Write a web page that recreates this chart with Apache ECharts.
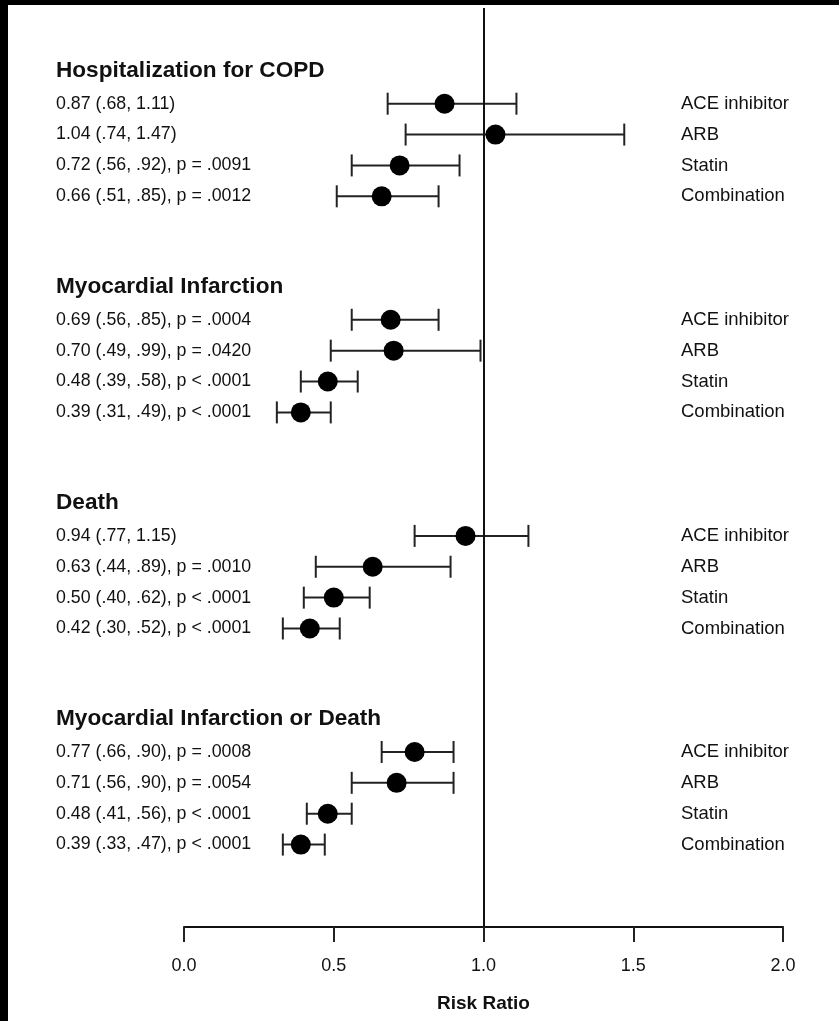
<!DOCTYPE html>
<html>
<head>
<meta charset="utf-8">
<script src="https://cdn.jsdelivr.net/npm/echarts@6/dist/echarts.min.js"></script>
<style>
  html, body { margin: 0; padding: 0; background: #000; }
  #chart { position: absolute; left: 8px; top: 5px; width: 831px; height: 1016px; background: #fff; }
</style>
</head>
<body>
<div id="chart"></div>
<script>
// ---- data ----
var groups = ['Hospitalization for COPD', 'Myocardial Infarction', 'Death', 'Myocardial Infarction or Death'];
var treatments = ['ACE inhibitor', 'ARB', 'Statin', 'Combination'];
var rrValues = [
  [0.87, 1.04, 0.72, 0.66],
  [0.69, 0.70, 0.48, 0.39],
  [0.94, 0.63, 0.50, 0.42],
  [0.77, 0.71, 0.48, 0.39]
];
var ciLow = [
  [0.68, 0.74, 0.56, 0.51],
  [0.56, 0.49, 0.39, 0.31],
  [0.77, 0.44, 0.40, 0.33],
  [0.66, 0.56, 0.41, 0.33]
];
var ciHigh = [
  [1.11, 1.47, 0.92, 0.85],
  [0.85, 0.99, 0.58, 0.49],
  [1.15, 0.89, 0.62, 0.52],
  [0.90, 0.90, 0.56, 0.47]
];
var rowLabels = [
  ['0.87 (.68, 1.11)', '1.04 (.74, 1.47)', '0.72 (.56, .92), p = .0091', '0.66 (.51, .85), p = .0012'],
  ['0.69 (.56, .85), p = .0004', '0.70 (.49, .99), p = .0420', '0.48 (.39, .58), p < .0001', '0.39 (.31, .49), p < .0001'],
  ['0.94 (.77, 1.15)', '0.63 (.44, .89), p = .0010', '0.50 (.40, .62), p < .0001', '0.42 (.30, .52), p < .0001'],
  ['0.77 (.66, .90), p = .0008', '0.71 (.56, .90), p = .0054', '0.48 (.41, .56), p < .0001', '0.39 (.33, .47), p < .0001']
];
var xMin = 0, xMax = 2, xInterval = 0.5;

// ---- build rows: each group = header + 4 rows + 2 blank slots ----
var SLOTS_PER_GROUP = 7;
var pointData = [], barData = [], textData = [], headerData = [];
groups.forEach(function (g, gi) {
  var base = gi * SLOTS_PER_GROUP;
  headerData.push([0, base, g]);
  treatments.forEach(function (t, ti) {
    var y = base + 1 + ti;
    pointData.push([rrValues[gi][ti], y]);
    barData.push([ciLow[gi][ti], ciHigh[gi][ti], y]);
    textData.push([0, y, rowLabels[gi][ti], t]);
  });
});

var FONT = "'Liberation Sans', Arial, Helvetica, sans-serif";
var LEFT_TEXT_X = 48;
var RIGHT_TEXT_X = 673;

var chart = echarts.init(document.getElementById('chart'), null, { renderer: 'canvas' });
chart.setOption({
  animation: false,
  backgroundColor: '#fff',
  grid: { left: 176, right: 56, top: 3, bottom: 94, containLabel: false },
  xAxis: {
    type: 'value', min: xMin, max: xMax, interval: xInterval, position: 'bottom',
    axisLine: { show: true, onZero: false, lineStyle: { color: '#111', width: 2 } },
    axisTick: { show: true, length: 15, lineStyle: { color: '#222', width: 2 } },
    splitLine: { show: false },
    axisLabel: {
      margin: 30, color: '#111', fontSize: 18, fontFamily: FONT,
      formatter: function (v) { return v.toFixed(1); }
    },
    name: 'Risk Ratio', nameLocation: 'middle', nameGap: 67,
    nameTextStyle: { color: '#111', fontSize: 19, fontWeight: 'bold', fontFamily: FONT }
  },
  yAxis: {
    type: 'value', inverse: true, min: -2.1, max: 27.67,
    show: false, splitLine: { show: false }
  },
  series: [
    {
      type: 'custom',
      name: 'ci',
      data: barData,
      encode: { x: [0, 1], y: 2 },
      renderItem: function (params, api) {
        var y = api.value(2);
        var p1 = api.coord([api.value(0), y]);
        var p2 = api.coord([api.value(1), y]);
        var h = 11;
        var st = { stroke: '#222', lineWidth: 2 };
        return {
          type: 'group',
          children: [
            { type: 'line', shape: { x1: p1[0], y1: p1[1], x2: p2[0], y2: p2[1] }, style: st },
            { type: 'line', shape: { x1: p1[0], y1: p1[1] - h, x2: p1[0], y2: p1[1] + h }, style: st },
            { type: 'line', shape: { x1: p2[0], y1: p2[1] - h, x2: p2[0], y2: p2[1] + h }, style: st }
          ]
        };
      },
      z: 2
    },
    {
      type: 'scatter',
      name: 'rr',
      data: pointData,
      symbol: 'circle',
      symbolSize: 20,
      itemStyle: { color: '#000', opacity: 1 },
      z: 3,
      markLine: {
        silent: true, symbol: 'none', label: { show: false },
        lineStyle: { color: '#111', width: 2, type: 'solid', opacity: 1 },
        data: [{ xAxis: 1 }]
      }
    },
    {
      type: 'custom',
      name: 'rowText',
      data: textData,
      encode: { x: 0, y: 1 },
      renderItem: function (params, api) {
        var p = api.coord([0, api.value(1)]);
        return {
          type: 'group',
          children: [
            { type: 'text', x: LEFT_TEXT_X, y: p[1], style: { text: textData[params.dataIndex][2], fill: '#111', font: '17.8px ' + FONT, textAlign: 'left', textVerticalAlign: 'middle' } },
            { type: 'text', x: RIGHT_TEXT_X, y: p[1], style: { text: textData[params.dataIndex][3], fill: '#111', font: '18.5px ' + FONT, textAlign: 'left', textVerticalAlign: 'middle' } }
          ]
        };
      }
    },
    {
      type: 'custom',
      name: 'headers',
      data: headerData,
      encode: { x: 0, y: 1 },
      renderItem: function (params, api) {
        var p = api.coord([0, api.value(1)]);
        return {
          type: 'text', x: LEFT_TEXT_X, y: p[1] - 2,
          style: { text: headerData[params.dataIndex][2], fill: '#111', font: 'bold 22.6px ' + FONT, textAlign: 'left', textVerticalAlign: 'middle' }
        };
      }
    }
  ]
});
</script>
</body>
</html>
